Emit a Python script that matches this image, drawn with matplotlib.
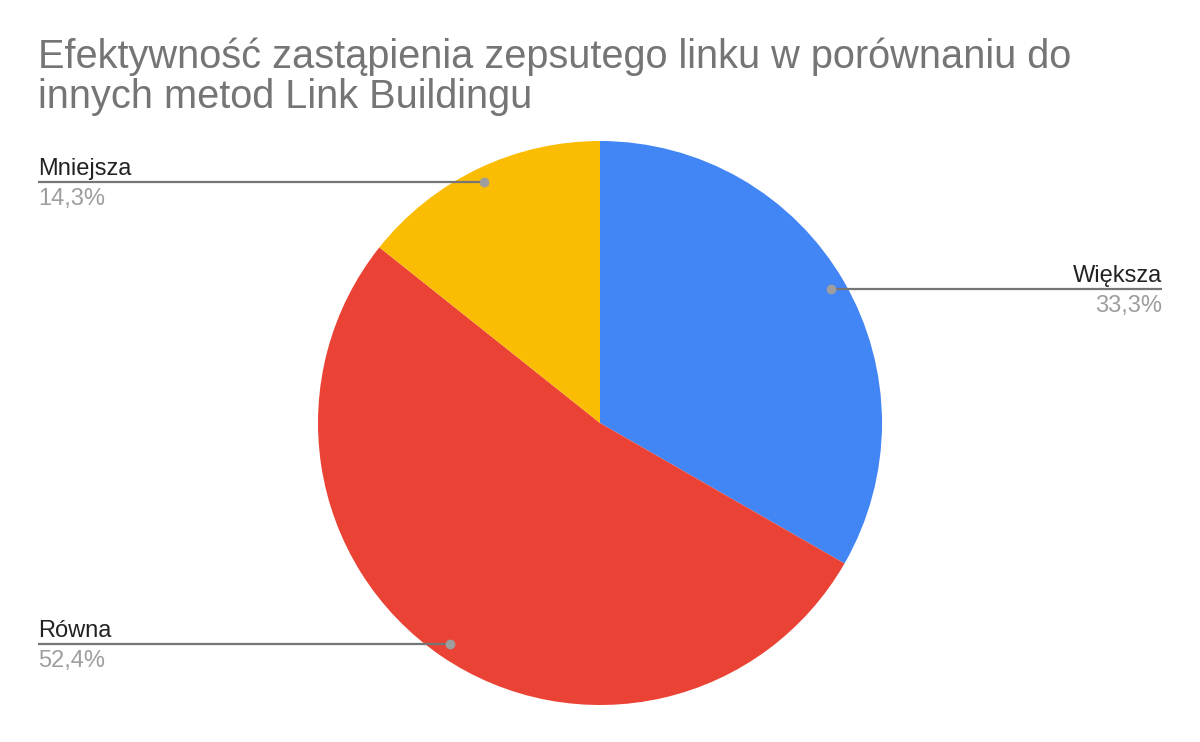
import numpy as np
import matplotlib
matplotlib.use('Agg')
import matplotlib.pyplot as plt

# --- dane ---
categories = ['Większa', 'Równa', 'Mniejsza']
shares = [33.3, 52.4, 14.3]
pct_labels = ['33,3%', '52,4%', '14,3%']
colors = ['#4285F4', '#EA4335', '#FBBC04']
title_lines = ['Efektywność zastąpienia zepsutego linku w porównaniu do',
               'innych metod Link Buildingu']

plt.rcParams['font.family'] = ['Liberation Sans', 'DejaVu Sans']

W, H = 1200, 742
fig = plt.figure(figsize=(12, 7.42), dpi=100)
ax = fig.add_axes([0, 0, 1, 1])

cx, cy, r = 600, H - 423, 282
wedges, _ = ax.pie(shares, colors=colors, startangle=90, counterclock=False,
                   center=(cx, cy), radius=r, frame=True,
                   wedgeprops=dict(linewidth=0))
ax.set_xlim(0, W)
ax.set_ylim(0, H)
ax.set_aspect('equal')
ax.axis('off')

# etykiety z liniami odniesienia
for w, name, pct in zip(wedges, categories, pct_labels):
    ang = np.deg2rad((w.theta1 + w.theta2) / 2)
    px = cx + 0.947 * r * np.cos(ang)
    py = cy + 0.947 * r * np.sin(ang)
    if np.cos(ang) >= 0:
        xe, ha = 1162, 'right'
    else:
        xe, ha = 38, 'left'
    ax.plot([px, xe], [py, py], color='#757575', lw=1.6, solid_capstyle='butt', zorder=3)
    ax.plot(px, py, 'o', ms=7, color='#9E9E9E', mec='none', zorder=4)
    ax.text(xe, py + 7, name, ha=ha, va='baseline', fontsize=17, color='#222222')
    ax.text(xe, py - 23, pct, ha=ha, va='baseline', fontsize=17, color='#9E9E9E')

# tytuł w dwóch wierszach
for line, base in zip(title_lines, [68, 107.5]):
    fig.text(38 / W, 1 - base / H, line, ha='left', va='baseline', fontsize=28.6,
             color='#757575')

fig.savefig('out.png', dpi=100)
